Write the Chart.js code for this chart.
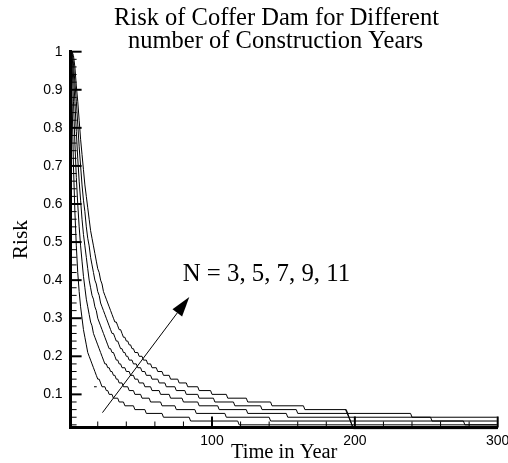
<!DOCTYPE html>
<html><head><meta charset="utf-8">
<script src="https://cdn.jsdelivr.net/npm/chart.js@4"></script>
<style>html,body{margin:0;padding:0;background:#fff}canvas{display:block}</style>
</head><body>
<canvas id="c" width="508" height="463"></canvas>
<script>
const titleLines = ['Risk of Coffer Dam for Different', 'number of Construction Years'];
const xTitle = 'Time in Year';
const yTitle = 'Risk';
const annotationText = 'N = 3, 5, 7, 9, 11';

// x tick labels and minor tick positions
const xTicks = [100, 200, 300];
const xMinor = [20, 40, 60, 80, 120, 140, 160, 180, 220, 240, 260, 280];
const yTicks = [0.1, 0.2, 0.3, 0.4, 0.5, 0.6, 0.7, 0.8, 0.9, 1];
const yMinor = [0.02, 0.04, 0.06, 0.08, 0.12, 0.14, 0.16, 0.18, 0.22, 0.24, 0.26, 0.28, 0.32, 0.34, 0.36, 0.38,
  0.42, 0.44, 0.46, 0.48, 0.52, 0.54, 0.56, 0.58, 0.62, 0.64, 0.66, 0.68, 0.72, 0.74, 0.76, 0.78,
  0.82, 0.84, 0.86, 0.88, 0.92, 0.94, 0.96, 0.98];

// Each curve: time (year) where the plotted risk changes, and the risk from that year on
const t3 = [1,2,3,4,5,6,7,8,9,10,11,12,13,14,15,16,17,18,19,20,22,23,26,28,31,35,39,46,54,66,85,119,199,300];
const r3 = [1,0.88,0.70,0.58,0.49,0.42,0.37,0.33,0.30,0.27,0.25,0.23,0.21,0.20,0.19,0.18,0.17,0.16,0.15,0.14,0.13,0.12,0.11,0.10,0.09,0.08,0.07,0.06,0.05,0.04,0.03,0.02,0.01,0.01];

const t5 = [1,2,3,4,5,6,7,8,9,10,11,12,13,14,15,16,17,18,19,20,21,22,23,24,25,27,29,31,33,35,38,42,46,51,57,65,75,89,110,141,198,300];
const r5 = [1,0.97,0.87,0.76,0.67,0.60,0.54,0.49,0.45,0.41,0.38,0.35,0.33,0.31,0.29,0.28,0.26,0.25,0.24,0.23,0.22,0.21,0.20,0.19,0.18,0.17,0.16,0.15,0.14,0.13,0.12,0.11,0.10,0.09,0.08,0.07,0.06,0.05,0.04,0.03,0.02,0.02];

const t7 = [1,2,3,4,5,6,7,8,9,10,11,12,13,14,15,16,17,18,19,20,21,22,23,24,25,26,27,28,30,32,33,35,37,40,43,46,49,53,58,64,71,80,91,105,125,153,197,277,300];
const r7 = [1,0.99,0.94,0.87,0.79,0.72,0.66,0.61,0.56,0.52,0.49,0.46,0.43,0.40,0.38,0.36,0.35,0.33,0.32,0.30,0.29,0.28,0.27,0.26,0.25,0.24,0.23,0.22,0.21,0.20,0.19,0.18,0.17,0.16,0.15,0.14,0.13,0.12,0.11,0.10,0.09,0.08,0.07,0.06,0.05,0.04,0.03,0.02,0.02];

const t9 = [1,3,4,5,6,7,8,9,10,11,12,13,14,15,16,17,18,19,20,21,22,23,24,25,26,27,28,29,30,32,33,35,36,38,40,42,45,48,51,54,58,63,68,75,82,91,102,116,135,160,196,254,300];
const r9 = [1,0.97,0.92,0.87,0.81,0.75,0.70,0.65,0.61,0.58,0.54,0.51,0.49,0.46,0.44,0.42,0.40,0.39,0.37,0.36,0.34,0.33,0.32,0.31,0.30,0.29,0.28,0.27,0.26,0.25,0.24,0.23,0.22,0.21,0.20,0.19,0.18,0.17,0.16,0.15,0.14,0.13,0.12,0.11,0.10,0.09,0.08,0.07,0.06,0.05,0.04,0.03,0.03];

const t11 = [1,3,4,5,6,7,8,9,10,11,12,13,14,15,16,17,18,19,20,21,22,23,24,25,26,27,28,29,30,31,32,34,35,37,38,40,42,44,46,49,52,55,58,62,66,71,77,83,91,100,111,125,142,165,195,240,300];
const r11 = [1,0.99,0.96,0.91,0.87,0.82,0.77,0.73,0.69,0.65,0.62,0.59,0.56,0.53,0.51,0.49,0.47,0.45,0.43,0.42,0.40,0.39,0.37,0.36,0.35,0.34,0.33,0.32,0.31,0.30,0.29,0.28,0.27,0.26,0.25,0.24,0.23,0.22,0.21,0.20,0.19,0.18,0.17,0.16,0.15,0.14,0.13,0.12,0.11,0.10,0.09,0.08,0.07,0.06,0.05,0.04,0.04];

// small stray strokes visible in the picture
const strayDropX = [193.5, 199];
const strayDropY = [0.06, 0.01];
const strayDashX = [17.4, 19.3];
const strayDashY = [0.12, 0.12];

// arrow (data coordinates) and label anchor
const arrowFrom = [23.3, 0.052];
const arrowTo = [84.1, 0.356];
const labelAt = [79.5, 0.398];

function stairs(ts, rs) {
  const pts = [];
  for (let i = 0; i < ts.length; i++) {
    pts.push({x: ts[i], y: rs[i]});
    if (i < ts.length - 1 && ts[i + 1] - 1 > ts[i]) pts.push({x: ts[i + 1] - 1, y: rs[i]});
  }
  return pts;
}
function pairs(xs, ys) { return xs.map((x, i) => ({x, y: ys[i]})); }

const lineStyle = {borderColor: '#000', borderWidth: 1, pointRadius: 0, tension: 0, fill: false, clip: false};
const datasets = [
  {label: 'N = 3', data: stairs(t3, r3), ...lineStyle},
  {label: 'N = 5', data: stairs(t5, r5), ...lineStyle},
  {label: 'N = 7', data: stairs(t7, r7), ...lineStyle},
  {label: 'N = 9', data: stairs(t9, r9), ...lineStyle},
  {label: 'N = 11', data: stairs(t11, r11), ...lineStyle},
  {label: 'drop', data: pairs(strayDropX, strayDropY), ...lineStyle},
  {label: 'dash', data: pairs(strayDashX, strayDashY), ...lineStyle}
];

const decor = {
  id: 'decor',
  afterDraw(chart) {
    const {ctx, scales: {x, y}, chartArea: a} = chart;
    ctx.save();
    ctx.strokeStyle = '#000';
    ctx.fillStyle = '#000';
    // inward tick marks
    const xt = (vals, len, w) => {
      ctx.lineWidth = w;
      vals.forEach(v => {
        const px = x.getPixelForValue(v);
        ctx.beginPath(); ctx.moveTo(px, a.bottom); ctx.lineTo(px, a.bottom - len); ctx.stroke();
      });
    };
    const yt = (vals, len, w) => {
      ctx.lineWidth = w;
      vals.forEach(v => {
        const py = y.getPixelForValue(v);
        ctx.beginPath(); ctx.moveTo(a.left, py); ctx.lineTo(a.left + len, py); ctx.stroke();
      });
    };
    xt(xMinor, 6, 1); xt(xTicks, 11, 2);
    yt(yMinor, 6, 1); yt(yTicks, 11, 2);

    // title
    ctx.font = '24.5px "Liberation Serif"';
    ctx.textAlign = 'center';
    ctx.textBaseline = 'alphabetic';
    ctx.fillText(titleLines[0], 276.5, 25);
    ctx.fillText(titleLines[1], 275.5, 47.7);

    // arrow
    const x0 = x.getPixelForValue(arrowFrom[0]), y0 = y.getPixelForValue(arrowFrom[1]);
    const x1 = x.getPixelForValue(arrowTo[0]), y1 = y.getPixelForValue(arrowTo[1]);
    const ang = Math.atan2(y1 - y0, x1 - x0);
    const hl = 20, hw = 6;
    const bx = x1 - hl * Math.cos(ang), by = y1 - hl * Math.sin(ang);
    ctx.lineWidth = 1;
    ctx.beginPath(); ctx.moveTo(x0, y0); ctx.lineTo(bx, by); ctx.stroke();
    ctx.beginPath();
    ctx.moveTo(x1, y1);
    ctx.lineTo(bx + hw * Math.sin(ang), by - hw * Math.cos(ang));
    ctx.lineTo(bx - hw * Math.sin(ang), by + hw * Math.cos(ang));
    ctx.closePath(); ctx.fill();

    // annotation text
    ctx.font = '24.8px "Liberation Serif"';
    ctx.textAlign = 'left';
    ctx.fillText(annotationText, x.getPixelForValue(labelAt[0]), y.getPixelForValue(labelAt[1]));
    ctx.restore();
  }
};

new Chart(document.getElementById('c'), {
  type: 'line',
  data: {datasets},
  options: {
    responsive: false,
    animation: false,
    events: [],
    layout: {padding: {left: 10.5, right: 10.3, top: 51.7, bottom: 0}},
    plugins: {legend: {display: false}, tooltip: {enabled: false}, title: {display: false}},
    scales: {
      x: {
        type: 'linear', min: 1, max: 300,
        grid: {display: false, drawTicks: false},
        border: {display: true, color: '#000', width: 3},
        afterBuildTicks: s => { s.ticks = xTicks.map(v => ({value: v})); },
        afterFit: s => { s.height = 35.5; s.paddingLeft = 0; s.paddingRight = 0; },
        ticks: {autoSkip: false, maxRotation: 0, padding: 5, color: '#000',
          font: {family: '"Liberation Sans"', size: 14}, callback: v => String(v)},
        title: {display: true, text: xTitle, color: '#000', padding: 0,
          font: {family: '"Liberation Serif"', size: 20.5, lineHeight: 1}}
      },
      y: {
        type: 'linear', min: 0.013, max: 1,
        grid: {display: false, drawTicks: false},
        border: {display: true, color: '#000', width: 3},
        afterBuildTicks: s => { s.ticks = yTicks.map(v => ({value: v})); },
        afterFit: s => { s.width = 60.1; s.paddingTop = 0; s.paddingBottom = 0; },
        ticks: {autoSkip: false, padding: 8, color: '#000',
          font: {family: '"Liberation Sans"', size: 14}, callback: v => String(v)},
        title: {display: true, text: yTitle, color: '#000', padding: 0,
          font: {family: '"Liberation Serif"', size: 21.5, lineHeight: 1}}
      }
    }
  },
  plugins: [decor]
});
</script>
</body></html>
